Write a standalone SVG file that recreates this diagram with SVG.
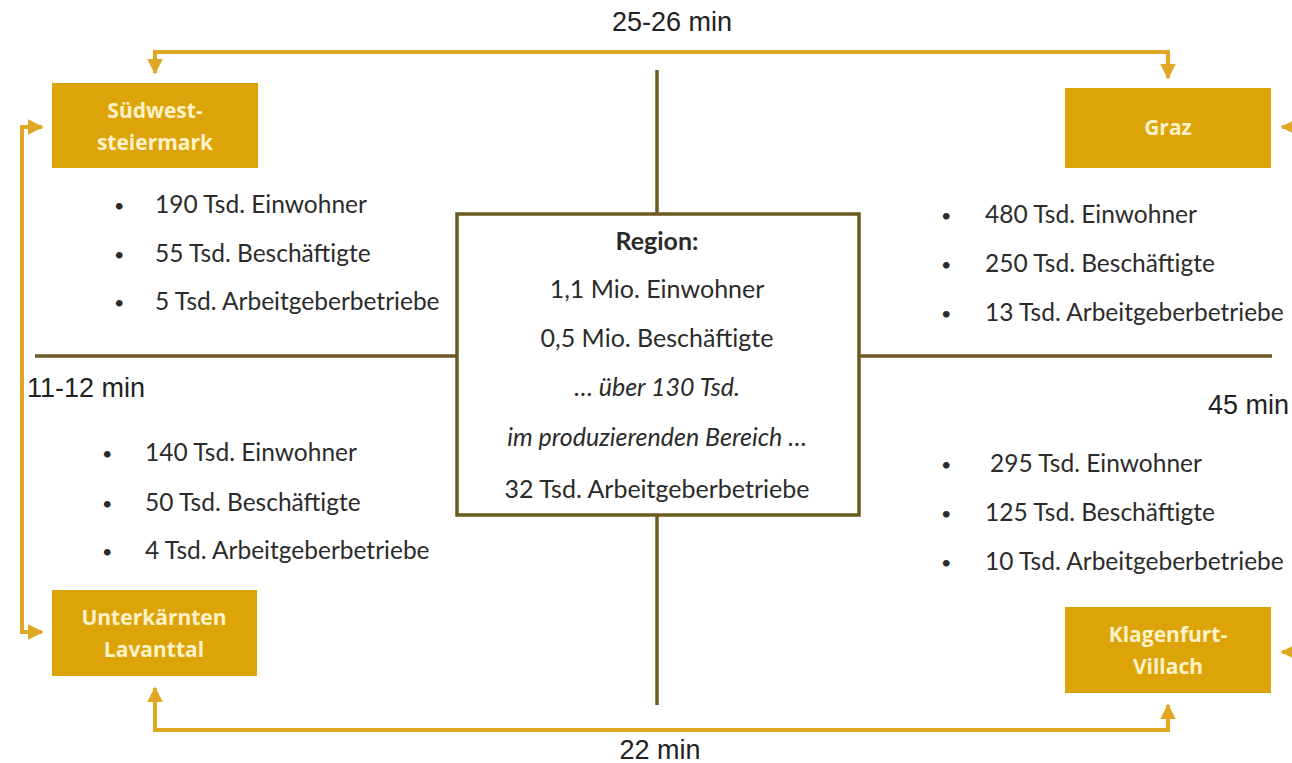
<svg xmlns="http://www.w3.org/2000/svg" width="1292" height="763" viewBox="0 0 1292 763">
<style>
.box{fill:#DDA40A}
.nt{font-family:"Open Sans","Liberation Sans",sans-serif;font-weight:bold;font-size:21px;fill:#FFF2C8;text-anchor:middle}
.conn{fill:none;stroke:#DFA824;stroke-width:4}
.cross{stroke:#6E5A26;stroke-width:3.5}
.bt{font-family:Lato,"Liberation Sans",sans-serif;font-size:24.5px;fill:#2B2B2B}
.bu{font-family:Lato,"Liberation Sans",sans-serif;font-size:18px;fill:#2B2B2B}
.ct{font-family:Lato,"Liberation Sans",sans-serif;font-size:25px;fill:#2B2B2B;text-anchor:middle}
.ml{font-family:"Liberation Sans",Arial,sans-serif;font-size:27px;fill:#222}
</style>
<defs>
<marker id="ah" viewBox="0 0 10 10" refX="9" refY="5" markerWidth="4" markerHeight="4" orient="auto" markerUnits="strokeWidth">
<path d="M0,0 L10,5 L0,10 z" fill="#DFA824"/>
</marker>
</defs>
<rect width="1292" height="763" fill="#fff"/>
<g id="cross">
<line class="cross" x1="657" y1="70" x2="657" y2="213"/>
<line class="cross" x1="657" y1="515" x2="657" y2="705"/>
<line class="cross" x1="35" y1="356" x2="457" y2="356"/>
<line class="cross" x1="859" y1="356" x2="1272" y2="356"/>
</g>
<g id="connectors">
<path class="conn" d="M155,72 V52 H1168 V78" marker-end="url(#ah)"/>
<path class="conn" d="M155,54 V73" marker-end="url(#ah)"/>
<path class="conn" d="M22,360 V127 H42" marker-end="url(#ah)"/>
<path class="conn" d="M22,360 V632 H42" marker-end="url(#ah)"/>
<path class="conn" d="M155,700 V730 H1168 V705" marker-end="url(#ah)"/>
<path class="conn" d="M155,710 V688" marker-end="url(#ah)"/>
<path class="conn" d="M1295,127 H1282" marker-end="url(#ah)"/>
<path class="conn" d="M1295,652 H1282" marker-end="url(#ah)"/>
</g>
<g id="labels">
<text class="ml" x="672" y="31" text-anchor="middle">25-26 min</text>
<text class="ml" x="27" y="397">11-12 min</text>
<text class="ml" x="1208" y="414">45 min</text>
<text class="ml" x="660" y="759" text-anchor="middle">22 min</text>
</g>
<g id="suedwest">
<rect class="box" x="52" y="83" width="206" height="85"/>
<text class="nt" x="155" y="118">Südwest-</text>
<text class="nt" x="155" y="150">steiermark</text>
</g>
<g id="graz">
<rect class="box" x="1065" y="88" width="206" height="80"/>
<text class="nt" x="1168" y="135">Graz</text>
</g>
<g id="unterkaernten">
<rect class="box" x="52" y="590" width="205" height="86"/>
<text class="nt" x="154" y="625">Unterkärnten</text>
<text class="nt" x="154" y="657">Lavanttal</text>
</g>
<g id="klagenfurt">
<rect class="box" x="1065" y="607" width="206" height="86"/>
<text class="nt" x="1168" y="642">Klagenfurt-</text>
<text class="nt" x="1168" y="674">Villach</text>
</g>
<g id="region">
<rect x="457" y="214" width="402" height="301" fill="#fff" stroke="#6B5A1E" stroke-width="3.5"/>
<text class="ct" x="657" y="250" font-weight="bold">Region:</text>
<text class="ct" x="657" y="298">1,1 Mio. Einwohner</text>
<text class="ct" x="657" y="347">0,5 Mio. Beschäftigte</text>
<text class="ct" x="657" y="396" font-style="italic">… über 130 Tsd.</text>
<text class="ct" x="657" y="446" font-style="italic">im produzierenden Bereich …</text>
<text class="ct" x="657" y="498">32 Tsd. Arbeitgeberbetriebe</text>
</g>
<g id="list-suedwest">
<text class="bu" x="114" y="212">•</text><text class="bt" x="155" y="213">190 Tsd. Einwohner</text>
<text class="bu" x="114" y="261">•</text><text class="bt" x="155" y="262">55 Tsd. Beschäftigte</text>
<text class="bu" x="114" y="309">•</text><text class="bt" x="155" y="310">5 Tsd. Arbeitgeberbetriebe</text>
</g>
<g id="list-graz">
<text class="bu" x="941" y="222">•</text><text class="bt" x="985" y="223">480 Tsd. Einwohner</text>
<text class="bu" x="941" y="271">•</text><text class="bt" x="985" y="272">250 Tsd. Beschäftigte</text>
<text class="bu" x="941" y="320">•</text><text class="bt" x="985" y="321">13 Tsd. Arbeitgeberbetriebe</text>
</g>
<g id="list-unterkaernten">
<text class="bu" x="102" y="460">•</text><text class="bt" x="145" y="461">140 Tsd. Einwohner</text>
<text class="bu" x="102" y="510">•</text><text class="bt" x="145" y="511">50 Tsd. Beschäftigte</text>
<text class="bu" x="102" y="558">•</text><text class="bt" x="145" y="559">4 Tsd. Arbeitgeberbetriebe</text>
</g>
<g id="list-klagenfurt">
<text class="bu" x="941" y="471">•</text><text class="bt" x="990" y="472">295 Tsd. Einwohner</text>
<text class="bu" x="941" y="520">•</text><text class="bt" x="985" y="521">125 Tsd. Beschäftigte</text>
<text class="bu" x="941" y="569">•</text><text class="bt" x="985" y="570">10 Tsd. Arbeitgeberbetriebe</text>
</g>
</svg>
